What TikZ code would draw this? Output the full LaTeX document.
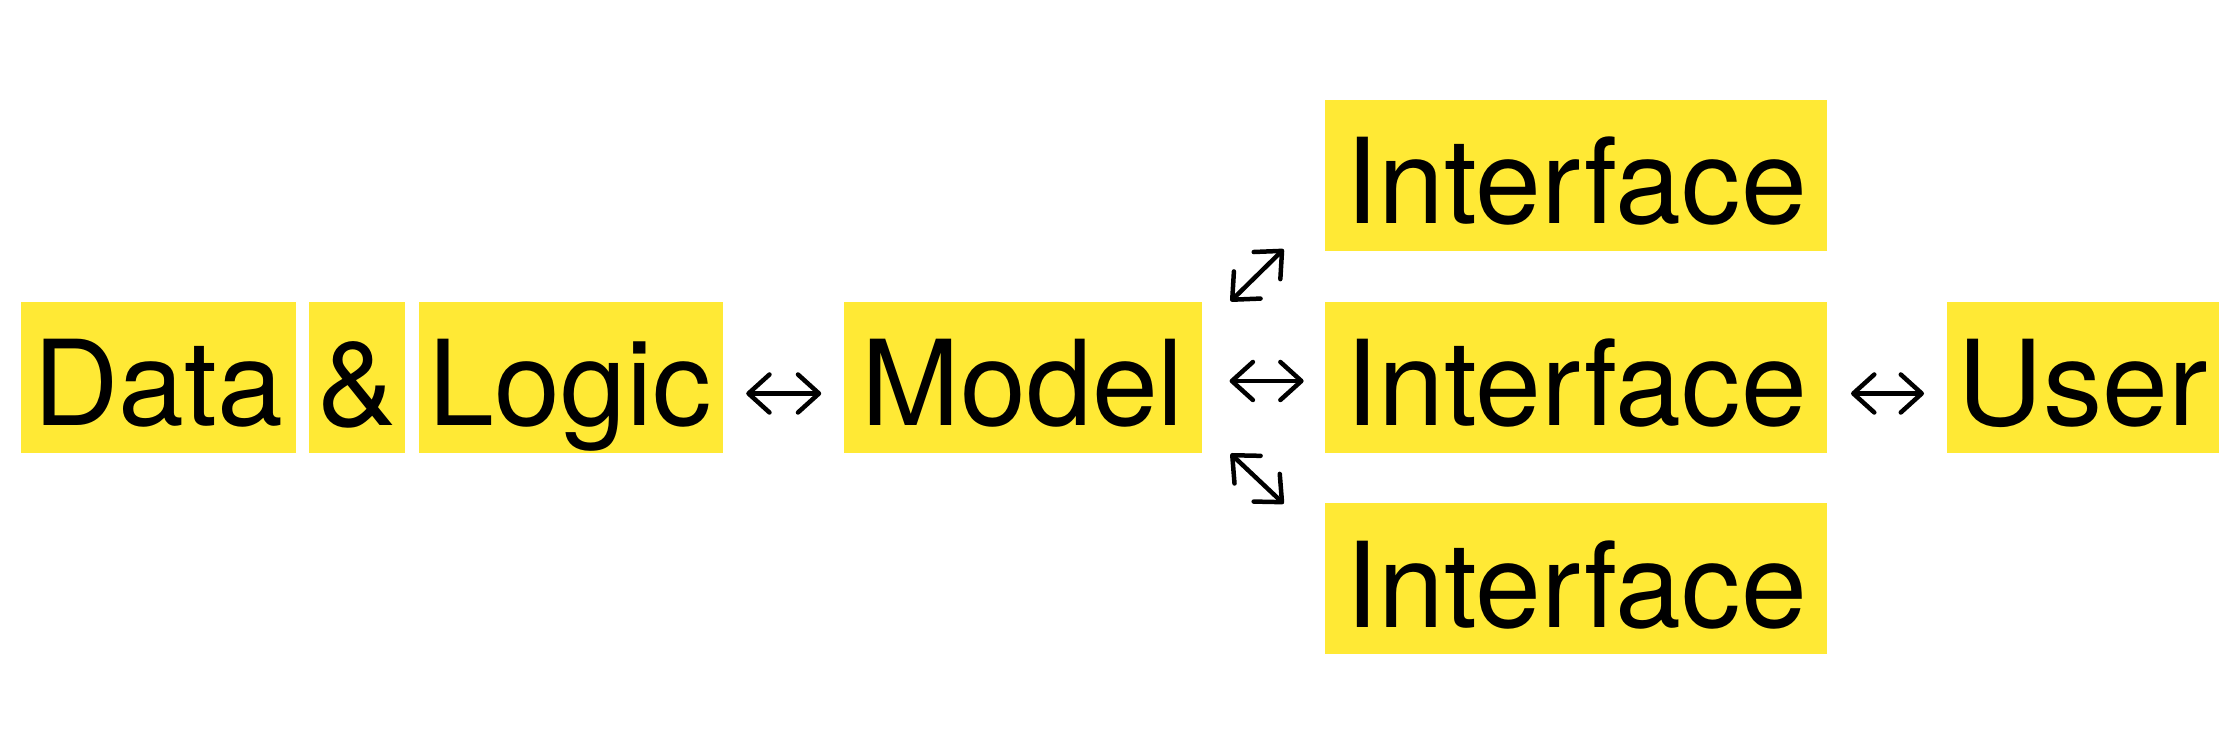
\documentclass[tikz,border=0pt]{standalone}
\usepackage{fontspec}
\setmainfont{TeX Gyre Heros}
\usepackage{xcolor}
\usepackage{tikz}
\usetikzlibrary{positioning, arrows.meta}
\definecolor{boxyellow}{RGB}{255,233,53}

\begin{document}
\begin{tikzpicture}[node distance = 0.12cm]
    \tikzstyle{block} = [fill=boxyellow, inner sep=0pt, minimum height=1.51cm, text height=1.24cm, text depth=0.27cm, font=\fontsize{33.7}{40}\selectfont]
    \tikzstyle{link} = [{Straight Barb[length=0.21cm, width=0.38cm, round]}-{Straight Barb[length=0.21cm, width=0.38cm, round]}, line width=0.045cm, line cap=round]
    \useasboundingbox (0, 0) rectangle (22.34, -7.54);

    \node [block, minimum width=2.75cm, anchor=west] (data) at (0.2, -3.775) {Data};
    \node [block, minimum width=0.96cm, right = of data] (amp) {\&};
    \node [block, minimum width=3.04cm, right = of amp] (logic) {Logic};
    \node [block, minimum width=3.58cm, right = 1.2cm of logic] (model) {Model};

    \node [block, minimum width=5.02cm, right = 1.22cm of model] (iface2) {Interface};
    \node [block, minimum width=5.02cm, above = 0.5cm of iface2] (iface1) {Interface};
    \node [block, minimum width=5.02cm, below = 0.49cm of iface2] (iface3) {Interface};

    \node [block, minimum width=2.72cm, right = 1.18cm of iface2] (user) {User};

    \coordinate (up0) at ([xshift=0.28cm]model.north east);
    \coordinate (up1) at ([xshift=0.81cm, yshift=0.52cm]model.north east);
    \coordinate (dn0) at ([xshift=0.28cm]model.south east);
    \coordinate (dn1) at ([xshift=0.81cm, yshift=-0.5cm]model.south east);

    \foreach \a/\b in {logic/model, iface2/user}
        \draw [link, shorten <=0.23cm, shorten >=0.22cm] ([yshift=-0.16cm]\a.east) -- ([yshift=-0.16cm]\b.west);
    \draw [link, shorten <=0.27cm, shorten >=0.21cm] ([yshift=-0.035cm]model.east) -- ([yshift=-0.035cm]iface2.west);
    \draw [link] (up0) -- (up1);
    \draw [link] (dn0) -- (dn1);
\end{tikzpicture}
\end{document}
